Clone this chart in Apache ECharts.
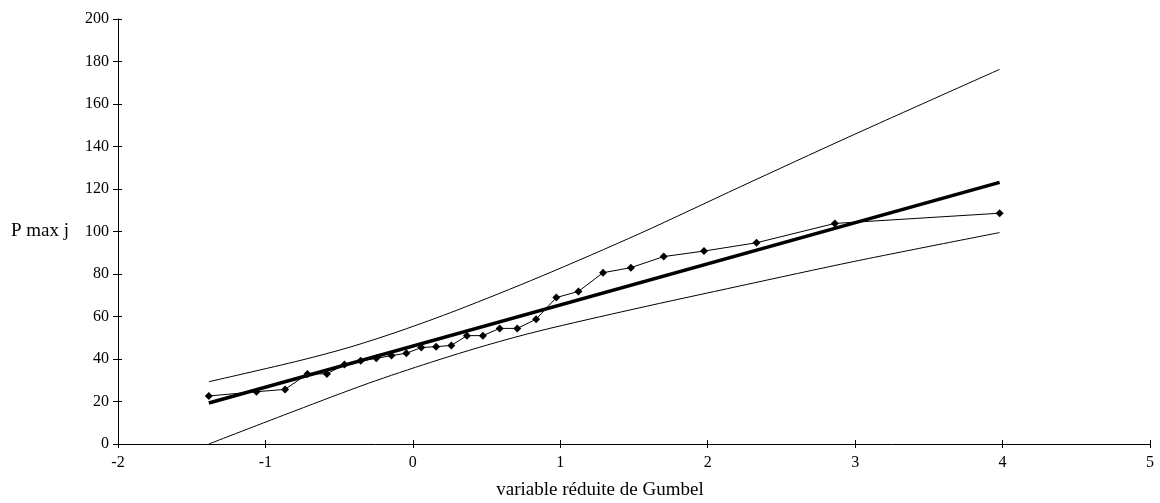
<!DOCTYPE html>
<html>
<head>
<meta charset="utf-8">
<script src="https://cdn.jsdelivr.net/npm/echarts@6/dist/echarts.min.js"></script>
<style>
html,body{margin:0;padding:0;background:#fff;}
#chart{width:1160px;height:503px;}
</style>
</head>
<body>
<div id="chart"></div>
<script>
// Observed values (Gumbel reduced variate, P max j)
var obsU = [-1.384, -1.061, -0.867, -0.715, -0.583, -0.464, -0.354, -0.248, -0.145, -0.044,
            0.057, 0.158, 0.261, 0.367, 0.475, 0.589, 0.708, 0.836, 0.973, 1.123,
            1.290, 1.479, 1.702, 1.975, 2.331, 2.862, 3.980];
var obsP = [22.6, 24.6, 25.7, 33.0, 33.0, 37.4, 39.2, 40.3, 41.6, 42.7,
            45.4, 45.8, 46.4, 51.0, 51.0, 54.4, 54.4, 58.7, 68.9, 71.8,
            80.6, 83.0, 88.2, 90.8, 94.7, 103.8, 108.6];
// Fitted Gumbel line
var fitU = [-1.384, 3.980];
var fitP = [19.3, 123.1];
// Upper confidence limit
var upU = [-1.384, -0.765, -0.426, -0.087, 0.3, 0.863, 1.541, 2.22, 2.957, 3.980];
var upP = [29.3, 39.3, 45.6, 53.2, 63.0, 78.7, 99.1, 121.0, 144.5, 176.3];
// Lower confidence limit
var loU = [-1.384, -0.8, -0.3, 0.12, 0.5, 0.863, 1.5, 2.22, 3.0, 3.980];
var loP = [0, 15.6, 28.6, 38.4, 46.5, 53.3, 63.5, 74.4, 86.0, 99.5];

function pairs(xs, ys){ return xs.map(function(x,i){ return [x, ys[i]]; }); }

var font = 'Liberation Serif, Times New Roman, serif';
var X_MIN = -2, X_MAX = 5, X_STEP = 1, Y_MIN = 0, Y_MAX = 200, Y_STEP = 20;
var chart = echarts.init(document.getElementById('chart'), null, {renderer:'canvas'});
chart.setOption({
  backgroundColor:'#fff',
  animation:false,
  grid:{left:118, right:10, top:19, bottom:59, containLabel:false, outerBoundsMode:'none'},
  xAxis:[{
    type:'value', min:X_MIN, max:X_MAX, interval:X_STEP,
    name:'variable réduite de Gumbel', nameLocation:'middle', nameGap:37,
    nameTextStyle:{color:'#000', fontFamily:font, fontSize:19, padding:[0,68,0,0]},
    axisLine:{onZero:false, lineStyle:{color:'#000', width:1}},
    axisTick:{show:true, inside:false, length:4, lineStyle:{color:'#000'}},
    axisLabel:{color:'#000', fontFamily:font, fontSize:16, margin:11},
    splitLine:{show:false}
  },{
    type:'value', min:X_MIN, max:X_MAX, interval:X_STEP, position:'bottom',
    axisLine:{show:false, onZero:false},
    axisTick:{show:true, inside:true, length:4, lineStyle:{color:'#000'}},
    axisLabel:{show:false}, splitLine:{show:false}
  }],
  yAxis:[{
    type:'value', min:Y_MIN, max:Y_MAX, interval:Y_STEP,
    name:'P max j', nameLocation:'middle', nameRotate:0, nameGap:49,
    nameTextStyle:{color:'#000', fontFamily:font, fontSize:19, align:'right', verticalAlign:'middle'},
    axisLine:{show:true, onZero:false, lineStyle:{color:'#000', width:1}},
    axisTick:{show:true, inside:false, length:5, lineStyle:{color:'#000'}},
    axisLabel:{color:'#000', fontFamily:font, fontSize:16, margin:9},
    splitLine:{show:false}
  },{
    type:'value', min:Y_MIN, max:Y_MAX, interval:Y_STEP, position:'left',
    axisLine:{show:false, onZero:false},
    axisTick:{show:true, inside:true, length:4, lineStyle:{color:'#000'}},
    axisLabel:{show:false}, splitLine:{show:false}
  }],
  series:[
    {type:'line', data:pairs(upU, upP), smooth:0.3, showSymbol:false,
     lineStyle:{color:'#000', width:1}, z:2},
    {type:'line', data:pairs(loU, loP), smooth:0.3, showSymbol:false,
     lineStyle:{color:'#000', width:1}, z:2},
    {type:'line', data:pairs(fitU, fitP), showSymbol:false,
     lineStyle:{color:'#000', width:3.5}, z:3},
    {type:'line', data:pairs(obsU, obsP), symbol:'diamond', symbolSize:8,
     itemStyle:{color:'#000'}, lineStyle:{color:'#000', width:1}, z:4}
  ]
});
</script>
</body>
</html>
